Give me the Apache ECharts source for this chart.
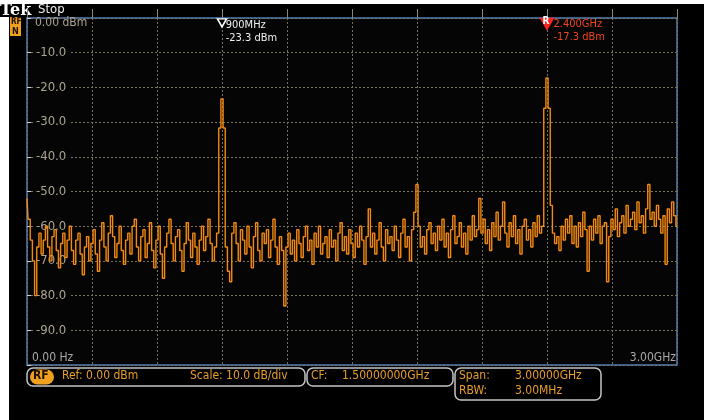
<!DOCTYPE html>
<html>
<head>
<meta charset="utf-8">
<script src="https://cdn.jsdelivr.net/npm/echarts@6/dist/echarts.min.js"></script>
<style>
html, body { margin: 0; background: #fff; }
#chart { width: 704px; height: 420px; }
</style>
</head>
<body>
<div id="chart"></div>
<script>
// spectrum trace, one level every 10 MHz from 0 Hz to 3.00 GHz (dBm)
const stepMHz = 10
const levels = [
  -52, -58, -64, -70, -80, -66, -62, -68, -64, -60,
  -66, -70, -63, -61, -67, -72, -65, -62, -69, -64,
  -60, -67, -71, -64, -62, -68, -74, -66, -63, -70,
  -65, -61, -68, -73, -64, -59, -66, -70, -62, -57,
  -63, -69, -65, -60, -67, -71, -64, -62, -68, -60,
  -58, -66, -70, -63, -61, -69, -65, -59, -67, -72,
  -64, -60, -68, -75, -66, -62, -58, -65, -70, -63,
  -61, -67, -73, -65, -59, -64, -69, -62, -66, -71,
  -64, -60, -67, -63, -58, -65, -70, -66, -62, -31.7,
  -23.3, -31.7, -66, -73, -76, -62, -59, -65, -70, -61,
  -64, -68, -60, -66, -72, -63, -59, -67, -70, -62,
  -65, -61, -69, -64, -58, -66, -71, -63, -67, -83,
  -66, -62, -68, -64, -70, -61, -65, -69, -63, -60,
  -67, -64, -71, -62, -66, -60, -68, -65, -63, -69,
  -61, -66, -64, -70, -62, -59, -67, -63, -68, -61,
  -65, -69, -62, -66, -60, -64, -71, -63, -55, -66,
  -62, -68, -64, -59, -66, -70, -61, -65, -63, -67,
  -60, -64, -69, -62, -58, -66, -63, -70, -61, -56,
  -48, -60, -66, -63, -68, -61, -59, -65, -62, -67,
  -60, -64, -58, -66, -62, -69, -61, -57, -65, -63,
  -59, -66, -62, -68, -60, -64, -57, -63, -61, -52,
  -62, -58, -65, -61, -67, -59, -63, -56, -64, -60,
  -53, -62, -66, -59, -63, -57, -65, -61, -68, -60,
  -58, -64, -61, -66, -59, -63, -57, -62, -60, -26,
  -17.3, -26, -54, -62, -65, -63, -67, -60, -64, -58,
  -62, -57, -65, -60, -66, -59, -63, -56, -61, -73,
  -60, -64, -58, -62, -57, -65, -60, -59, -76, -63,
  -58, -61, -55, -63, -59, -57, -62, -54, -60, -58,
  -56, -61, -53, -59, -57, -62, -55, -48, -58, -56,
  -60, -54, -58, -62, -57, -71, -55, -59, -53, -57,
  -60
]
const yTicks = [-10, -20, -30, -40, -50, -60, -70, -80, -90]
const marker1 = { freq: 900, text: ['900MHz', '-23.3 dBm'] }
const markerR = { freq: 2400, text: ['2.400GHz', '-17.3 dBm'] }

const FONT = '"DejaVu Sans Condensed", "Liberation Sans Narrow", "DejaVu Sans", sans-serif'
const ORANGE = '#e89c2a'
const GRID_L = 27, GRID_T = 18, GRID_W = 650, GRID_H = 347

const chart = echarts.init(document.getElementById('chart'))

const txt = (x, y, text, color, size, extra) => ({
  type: 'text', x: x, y: y, silent: true,
  style: Object.assign({ text: text, fill: color, font: size + 'px ' + FONT, verticalAlign: 'top' }, extra || {})
})
const box = (x, y, w, h) => ({
  type: 'rect', silent: true, shape: { x: x, y: y, width: w, height: h, r: 6 },
  style: { fill: '#000', stroke: '#c4c4c4', lineWidth: 1.5 }
})

const option = {
  backgroundColor: '#000',
  animation: false,
  grid: {
    left: GRID_L, top: GRID_T, width: GRID_W, height: GRID_H,
    show: true, borderColor: '#4f7fb8', borderWidth: 1.5, backgroundColor: '#050505'
  },
  xAxis: {
    type: 'value', min: 0, max: 3000, interval: 300,
    axisLine: { show: false },
    axisTick: { show: true, inside: true, length: 9, lineStyle: { color: '#8a8676' } },
    axisLabel: { show: false },
    splitLine: { lineStyle: { color: '#77735f', type: [2, 2], width: 1 } }
  },
  yAxis: {
    type: 'value', min: -100, max: 0, interval: 10,
    axisLine: { show: false },
    axisTick: { show: true, inside: true, length: 4, lineStyle: { color: '#d0d0d0' } },
    axisLabel: {
      inside: true, margin: 8, color: '#aaa490', fontSize: 13, fontFamily: FONT,
      backgroundColor: '#050505', padding: [0, 3, 0, 1],
      formatter: v => yTicks.indexOf(v) >= 0 ? v.toFixed(1) : ''
    },
    splitLine: { lineStyle: { color: '#77735f', type: [2, 2], width: 1 } }
  },
  series: [{
    type: 'line',
    step: 'middle',
    data: levels.map((v, i) => [i * stepMHz, v]),
    showSymbol: false,
    lineStyle: { color: '#f58a10', width: 1.4 },
    z: 3,
    markPoint: {
      silent: true,
      data: [
        {
          coord: [marker1.freq, -1.4], symbol: 'triangle', symbolRotate: 180, symbolSize: [9, 8],
          itemStyle: { color: '#000', borderColor: '#fff', borderWidth: 1.5 },
          label: {
            show: true, position: [9, 0], color: '#f0f0f0', fontSize: 11, fontFamily: FONT,
            lineHeight: 13, formatter: marker1.text.join('\n')
          }
        },
        {
          coord: [markerR.freq, -1.8], symbol: 'triangle', symbolRotate: 180, symbolSize: [15, 13],
          itemStyle: { color: '#ff2020' },
          label: {
            show: true, position: [3, -1], color: '#fff', fontSize: 10, fontWeight: 'bold',
            fontFamily: FONT, formatter: 'R'
          }
        },
        {
          coord: [markerR.freq, -1.0], symbol: 'rect', symbolSize: 1,
          itemStyle: { color: 'rgba(0,0,0,0)' },
          label: {
            show: true, position: [7, -3], color: '#f0441c', fontSize: 11, fontFamily: FONT,
            lineHeight: 13, formatter: markerR.text.join('\n')
          }
        }
      ]
    }
  }],
  graphic: [
    { type: 'rect', silent: true, shape: { x: 0, y: 0, width: 704, height: 4 }, style: { fill: '#fff' } },
    { type: 'rect', silent: true, shape: { x: 0, y: 17, width: 9, height: 403 }, style: { fill: '#fff' } },
    txt(0, 3, 'Tek', '#fff', 16, { font: 'bold 16px "DejaVu Serif", serif' }),
    txt(38, 3, 'Stop', '#f0f0f0', 13),
    { type: 'rect', silent: true, shape: { x: 10, y: 17, width: 11, height: 19 }, style: { fill: '#f0a020' } },
    txt(11, 18, 'RF', '#201000', 8, { font: 'bold 8px ' + FONT }),
    txt(12, 27, 'N', '#201000', 9, { font: 'bold 9px ' + FONT }),
    txt(35, 17, '0.00 dBm', '#aaa490', 12),
    txt(32, 352, '0.00 Hz', '#a8a8a8', 12),
    txt(676, 352, '3.00GHz', '#a8a8a8', 12, { align: 'right' }),
    box(27, 368, 278, 18),
    box(307, 368, 146, 18),
    box(455, 368, 146, 32),
    { type: 'rect', silent: true, shape: { x: 30, y: 369.5, width: 24, height: 15, r: 7.5 }, style: { fill: '#f0a020' } },
    txt(33, 370, 'RF', '#201000', 12, { font: 'bold 12px ' + FONT }),
    txt(62, 370, 'Ref: 0.00 dBm', ORANGE, 12),
    txt(190, 370, 'Scale: 10.0 dB/div', ORANGE, 12),
    txt(311, 370, 'CF:', ORANGE, 12),
    txt(342, 370, '1.50000000GHz', ORANGE, 12),
    txt(459, 370, 'Span:', ORANGE, 12),
    txt(515, 370, '3.00000GHz', ORANGE, 12),
    txt(459, 385, 'RBW:', ORANGE, 12),
    txt(515, 385, '3.00MHz', ORANGE, 12)
  ]
}

chart.setOption(option)
window.addEventListener('resize', () => chart.resize())
</script>
</body>
</html>
